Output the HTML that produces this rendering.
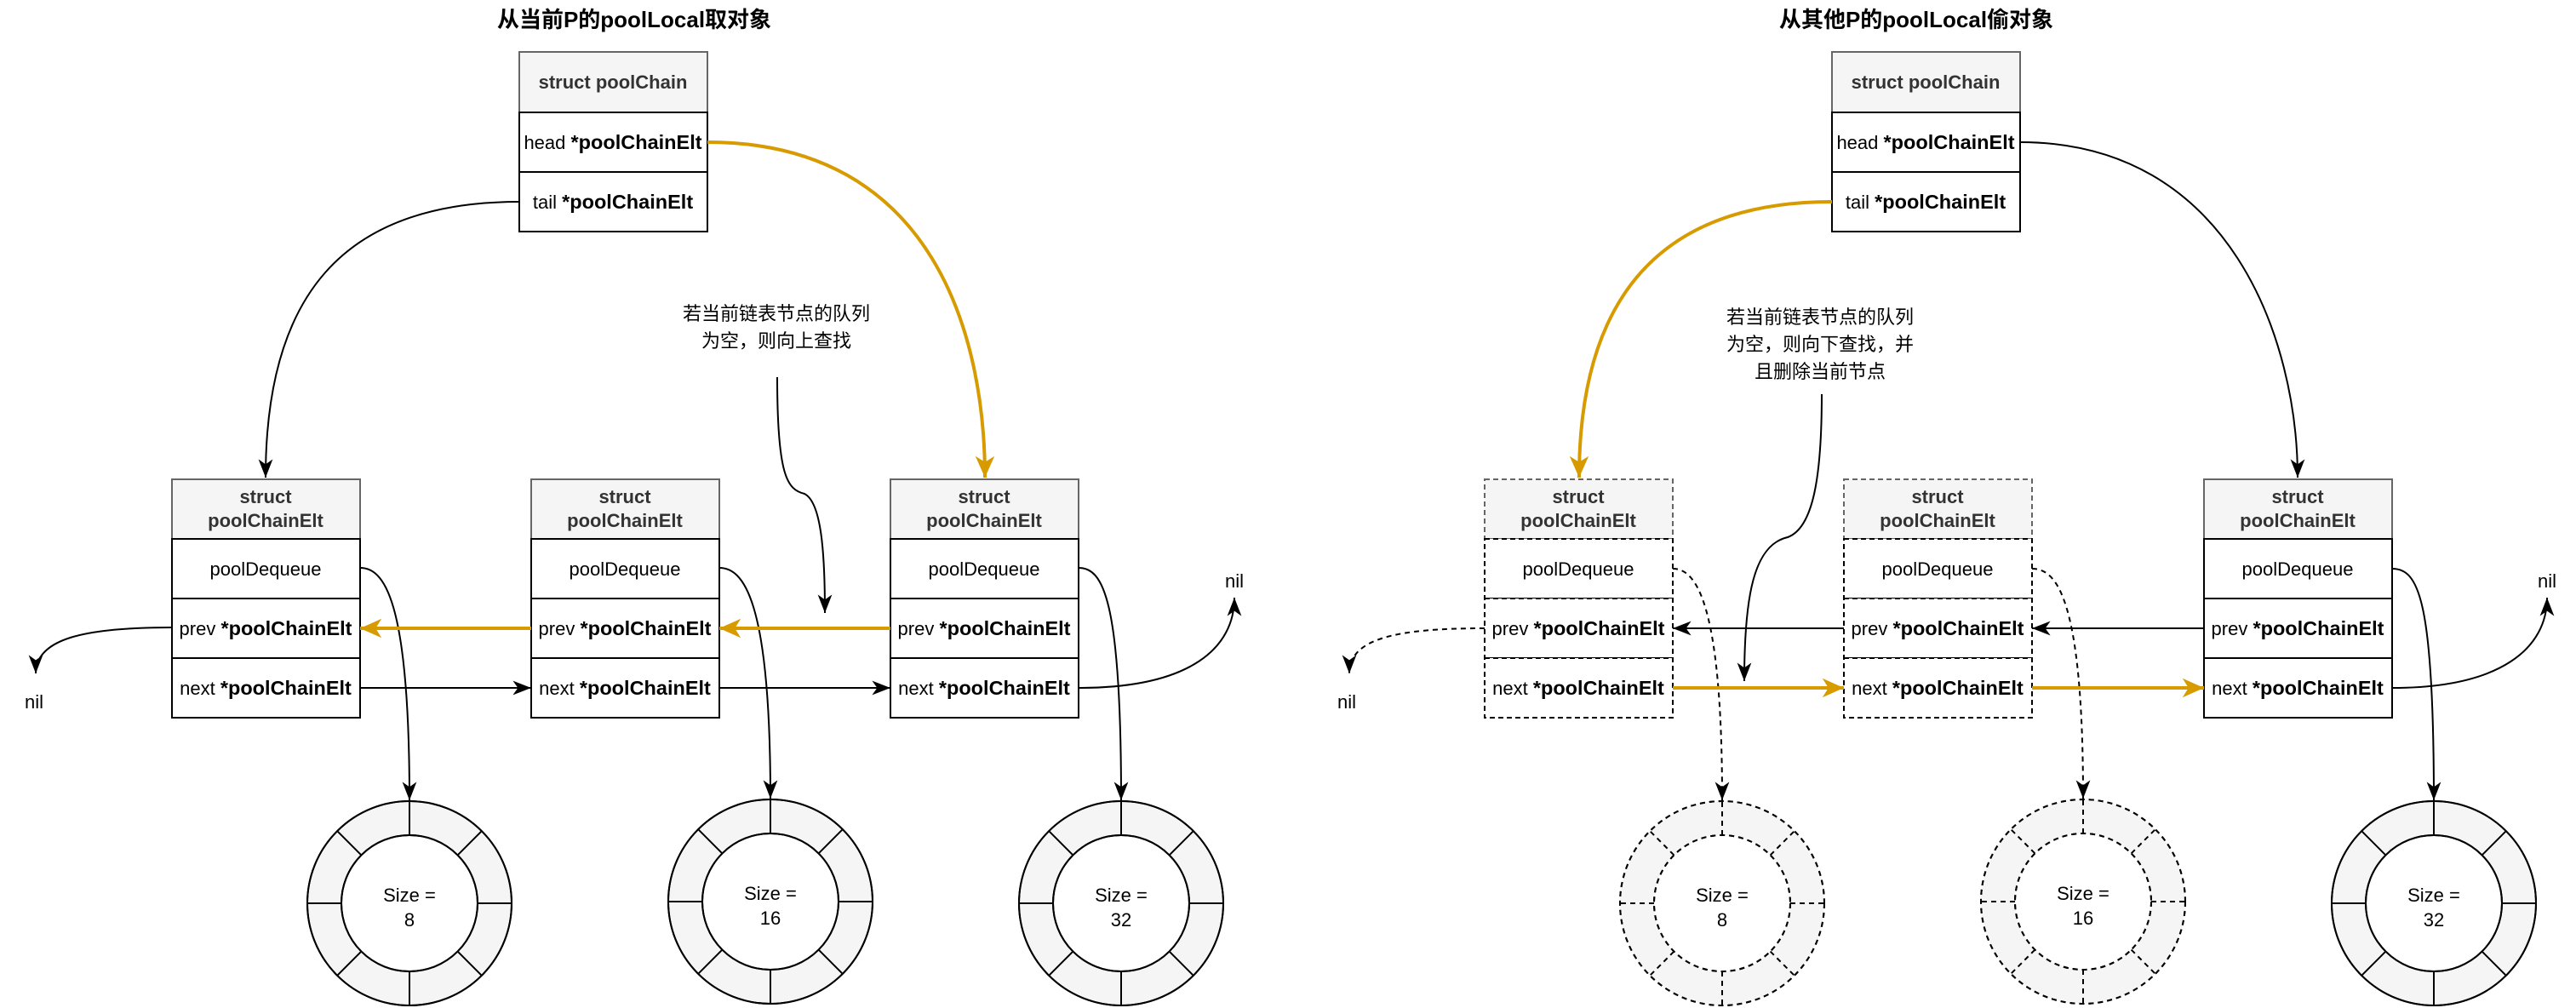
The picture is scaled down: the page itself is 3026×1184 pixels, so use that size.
<!DOCTYPE html>
<html><head><meta charset="utf-8"><style>
html,body{margin:0;padding:0;background:#fff;}
svg{display:block;font-family:"Liberation Sans","Noto Sans CJK SC",sans-serif;}
.b{font-weight:bold;font-size:23.5px;}
</style></head><body>
<svg width="3026" height="1184" viewBox="0 0 3026 1184" xmlns="http://www.w3.org/2000/svg">
<defs>
<marker id="ab" markerUnits="userSpaceOnUse" markerWidth="24" markerHeight="24" viewBox="0 0 20 20" refX="18" refY="10" orient="auto"><path d="M0,3 L18,10 L0,17 L5,10 Z" fill="#000"/></marker>
<marker id="ao" markerUnits="userSpaceOnUse" markerWidth="28" markerHeight="28" viewBox="0 0 20 20" refX="18" refY="10" orient="auto"><path d="M0,2 L18,10 L0,18 L5,10 Z" fill="#d79b00"/></marker>
<g id="ring">
<circle r="120" fill="#f5f5f5"/><circle r="80" fill="#fff"/>
<line x1="0" y1="-80" x2="0" y2="-120"/><line x1="0" y1="80" x2="0" y2="120"/>
<line x1="-80" y1="0" x2="-120" y2="0"/><line x1="80" y1="0" x2="120" y2="0"/>
<line x1="56.6" y1="56.6" x2="84.9" y2="84.9"/><line x1="-56.6" y1="56.6" x2="-84.9" y2="84.9"/>
<line x1="56.6" y1="-56.6" x2="84.9" y2="-84.9"/><line x1="-56.6" y1="-56.6" x2="-84.9" y2="-84.9"/>
<circle r="120" fill="none"/><circle r="80" fill="none"/>
</g>
</defs>

<g font-size="26" font-weight="bold" text-anchor="middle" fill="#000">
<text x="745" y="32">从当前P的poolLocal取对象</text>
<text x="2251" y="32">从其他P的poolLocal偷对象</text>
</g>

<g font-size="22" text-anchor="middle">
<rect x="610" y="61" width="221" height="71" fill="#f5f5f5" stroke="#666" stroke-width="2"/>
<rect x="610" y="132" width="221" height="70" fill="#fff" stroke="#000" stroke-width="2"/>
<rect x="610" y="202" width="221" height="70" fill="#fff" stroke="#000" stroke-width="2"/>
<text x="720" y="104" font-weight="bold" fill="#333">struct  poolChain</text>
<text x="720" y="175">head <tspan class="b">*poolChainElt</tspan></text>
<text x="720" y="245">tail <tspan class="b">*poolChainElt</tspan></text>

<rect x="2152" y="61" width="221" height="71" fill="#f5f5f5" stroke="#666" stroke-width="2"/>
<rect x="2152" y="132" width="221" height="70" fill="#fff" stroke="#000" stroke-width="2"/>
<rect x="2152" y="202" width="221" height="70" fill="#fff" stroke="#000" stroke-width="2"/>
<text x="2262" y="104" font-weight="bold" fill="#333">struct  poolChain</text>
<text x="2262" y="175">head <tspan class="b">*poolChainElt</tspan></text>
<text x="2262" y="245">tail <tspan class="b">*poolChainElt</tspan></text>
</g>

<g font-size="22" text-anchor="middle">
<g stroke-width="2">
<rect x="202" y="563" width="221" height="70" fill="#f5f5f5" stroke="#666"/>
<rect x="202" y="633" width="221" height="70" fill="#fff" stroke="#000"/>
<rect x="202" y="703" width="221" height="70" fill="#fff" stroke="#000"/>
<rect x="202" y="773" width="221" height="70" fill="#fff" stroke="#000"/>
<rect x="624" y="563" width="221" height="70" fill="#f5f5f5" stroke="#666"/>
<rect x="624" y="633" width="221" height="70" fill="#fff" stroke="#000"/>
<rect x="624" y="703" width="221" height="70" fill="#fff" stroke="#000"/>
<rect x="624" y="773" width="221" height="70" fill="#fff" stroke="#000"/>
<rect x="1046" y="563" width="221" height="70" fill="#f5f5f5" stroke="#666"/>
<rect x="1046" y="633" width="221" height="70" fill="#fff" stroke="#000"/>
<rect x="1046" y="703" width="221" height="70" fill="#fff" stroke="#000"/>
<rect x="1046" y="773" width="221" height="70" fill="#fff" stroke="#000"/>
<rect x="2589" y="563" width="221" height="70" fill="#f5f5f5" stroke="#666"/>
<rect x="2589" y="633" width="221" height="70" fill="#fff" stroke="#000"/>
<rect x="2589" y="703" width="221" height="70" fill="#fff" stroke="#000"/>
<rect x="2589" y="773" width="221" height="70" fill="#fff" stroke="#000"/>
</g>
<g stroke-width="2" stroke-dasharray="6,4">
<rect x="1744" y="563" width="221" height="70" fill="#f5f5f5" stroke="#666"/>
<rect x="1744" y="633" width="221" height="70" fill="#fff" stroke="#000"/>
<rect x="1744" y="703" width="221" height="70" fill="#fff" stroke="#000"/>
<rect x="1744" y="773" width="221" height="70" fill="#fff" stroke="#000"/>
<rect x="2166" y="563" width="221" height="70" fill="#f5f5f5" stroke="#666"/>
<rect x="2166" y="633" width="221" height="70" fill="#fff" stroke="#000"/>
<rect x="2166" y="703" width="221" height="70" fill="#fff" stroke="#000"/>
<rect x="2166" y="773" width="221" height="70" fill="#fff" stroke="#000"/>
</g>
<g>
<text x="312" y="591" font-weight="bold" fill="#333">struct</text><text x="312" y="619" font-weight="bold" fill="#333">poolChainElt</text>
<text x="312" y="676">poolDequeue</text><text x="312" y="746">prev <tspan class="b">*poolChainElt</tspan></text><text x="312" y="816">next <tspan class="b">*poolChainElt</tspan></text>
<text x="734" y="591" font-weight="bold" fill="#333">struct</text><text x="734" y="619" font-weight="bold" fill="#333">poolChainElt</text>
<text x="734" y="676">poolDequeue</text><text x="734" y="746">prev <tspan class="b">*poolChainElt</tspan></text><text x="734" y="816">next <tspan class="b">*poolChainElt</tspan></text>
<text x="1156" y="591" font-weight="bold" fill="#333">struct</text><text x="1156" y="619" font-weight="bold" fill="#333">poolChainElt</text>
<text x="1156" y="676">poolDequeue</text><text x="1156" y="746">prev <tspan class="b">*poolChainElt</tspan></text><text x="1156" y="816">next <tspan class="b">*poolChainElt</tspan></text>
<text x="1854" y="591" font-weight="bold" fill="#333">struct</text><text x="1854" y="619" font-weight="bold" fill="#333">poolChainElt</text>
<text x="1854" y="676">poolDequeue</text><text x="1854" y="746">prev <tspan class="b">*poolChainElt</tspan></text><text x="1854" y="816">next <tspan class="b">*poolChainElt</tspan></text>
<text x="2276" y="591" font-weight="bold" fill="#333">struct</text><text x="2276" y="619" font-weight="bold" fill="#333">poolChainElt</text>
<text x="2276" y="676">poolDequeue</text><text x="2276" y="746">prev <tspan class="b">*poolChainElt</tspan></text><text x="2276" y="816">next <tspan class="b">*poolChainElt</tspan></text>
<text x="2699" y="591" font-weight="bold" fill="#333">struct</text><text x="2699" y="619" font-weight="bold" fill="#333">poolChainElt</text>
<text x="2699" y="676">poolDequeue</text><text x="2699" y="746">prev <tspan class="b">*poolChainElt</tspan></text><text x="2699" y="816">next <tspan class="b">*poolChainElt</tspan></text>
</g>
</g>

<g stroke="#000" stroke-width="2">
<use href="#ring" x="481" y="1061"/>
<use href="#ring" x="905" y="1059"/>
<use href="#ring" x="1317" y="1061"/>
<use href="#ring" x="2859" y="1061"/>
</g>
<g stroke="#000" stroke-width="2" stroke-dasharray="6,5">
<use href="#ring" x="2023" y="1061"/>
<use href="#ring" x="2447" y="1059"/>
</g>
<g font-size="22" text-anchor="middle">
<text x="481" y="1059">Size =</text><text x="481" y="1088">8</text>
<text x="905" y="1057">Size =</text><text x="905" y="1086">16</text>
<text x="1317" y="1059">Size =</text><text x="1317" y="1088">32</text>
<text x="2023" y="1059">Size =</text><text x="2023" y="1088">8</text>
<text x="2447" y="1057">Size =</text><text x="2447" y="1086">16</text>
<text x="2859" y="1059">Size =</text><text x="2859" y="1088">32</text>
</g>

<g font-size="22" text-anchor="middle">
<text x="912" y="376">若当前链表节点的队列</text>
<text x="912" y="408">为空，则向上查找</text>
<text x="2138" y="380">若当前链表节点的队列</text>
<text x="2138" y="412">为空，则向下查找，并</text>
<text x="2138" y="444">且删除当前节点</text>
<text x="40" y="832">nil</text>
<text x="1450" y="690">nil</text>
<text x="1582" y="832">nil</text>
<text x="2992" y="690">nil</text>
</g>

<g fill="none" stroke="#000" stroke-width="2">
<path d="M610,237 C400,237 312,350 312,561" marker-end="url(#ab)"/>
<path d="M913,443 C913,560 925,575 945,580 C965,590 969,650 969,720" marker-end="url(#ab)"/>
<path d="M423,667 C450,667 481,700 481,940" marker-end="url(#ab)"/>
<path d="M845,667 C872,667 905,700 905,938" marker-end="url(#ab)"/>
<path d="M1267,667 C1295,667 1317,700 1317,940" marker-end="url(#ab)"/>
<path d="M202,737 C100,737 42,750 42,791" marker-end="url(#ab)"/>
<path d="M1267,808 C1400,808 1450,760 1450,702" marker-end="url(#ab)"/>
<path d="M423,808 L624,808" marker-end="url(#ab)"/>
<path d="M845,808 L1046,808" marker-end="url(#ab)"/>

<path d="M2373,167 C2620,167 2699,400 2699,561" marker-end="url(#ab)"/>
<path d="M2140,463 C2140,560 2130,620 2100,631 C2060,640 2049,700 2049,800" marker-end="url(#ab)"/>
<path d="M2589,738 L2387,738" marker-end="url(#ab)"/>
<path d="M2166,738 L1965,738" marker-end="url(#ab)"/>
<path d="M2810,808 C2940,808 2992,760 2992,702" marker-end="url(#ab)"/>
<path d="M2810,668 C2840,668 2859,700 2859,940" marker-end="url(#ab)"/>
<g stroke-dasharray="6,5">
<path d="M1744,738 C1640,738 1585,750 1585,791" marker-end="url(#ab)"/>
<path d="M1965,668 C1990,668 2023,700 2023,940" marker-end="url(#ab)"/>
<path d="M2387,668 C2415,668 2447,700 2447,938" marker-end="url(#ab)"/>
</g>
</g>
<g fill="none" stroke="#d79b00" stroke-width="4">
<path d="M831,167 C1100,167 1157,400 1157,561" marker-end="url(#ao)"/>
<path d="M1046,738 L845,738" marker-end="url(#ao)"/>
<path d="M624,738 L423,738" marker-end="url(#ao)"/>
<path d="M2152,237 C1950,237 1855,350 1855,561" marker-end="url(#ao)"/>
<path d="M1965,808 L2166,808" marker-end="url(#ao)"/>
<path d="M2387,808 L2589,808" marker-end="url(#ao)"/>
</g>
</svg>
</body></html>
